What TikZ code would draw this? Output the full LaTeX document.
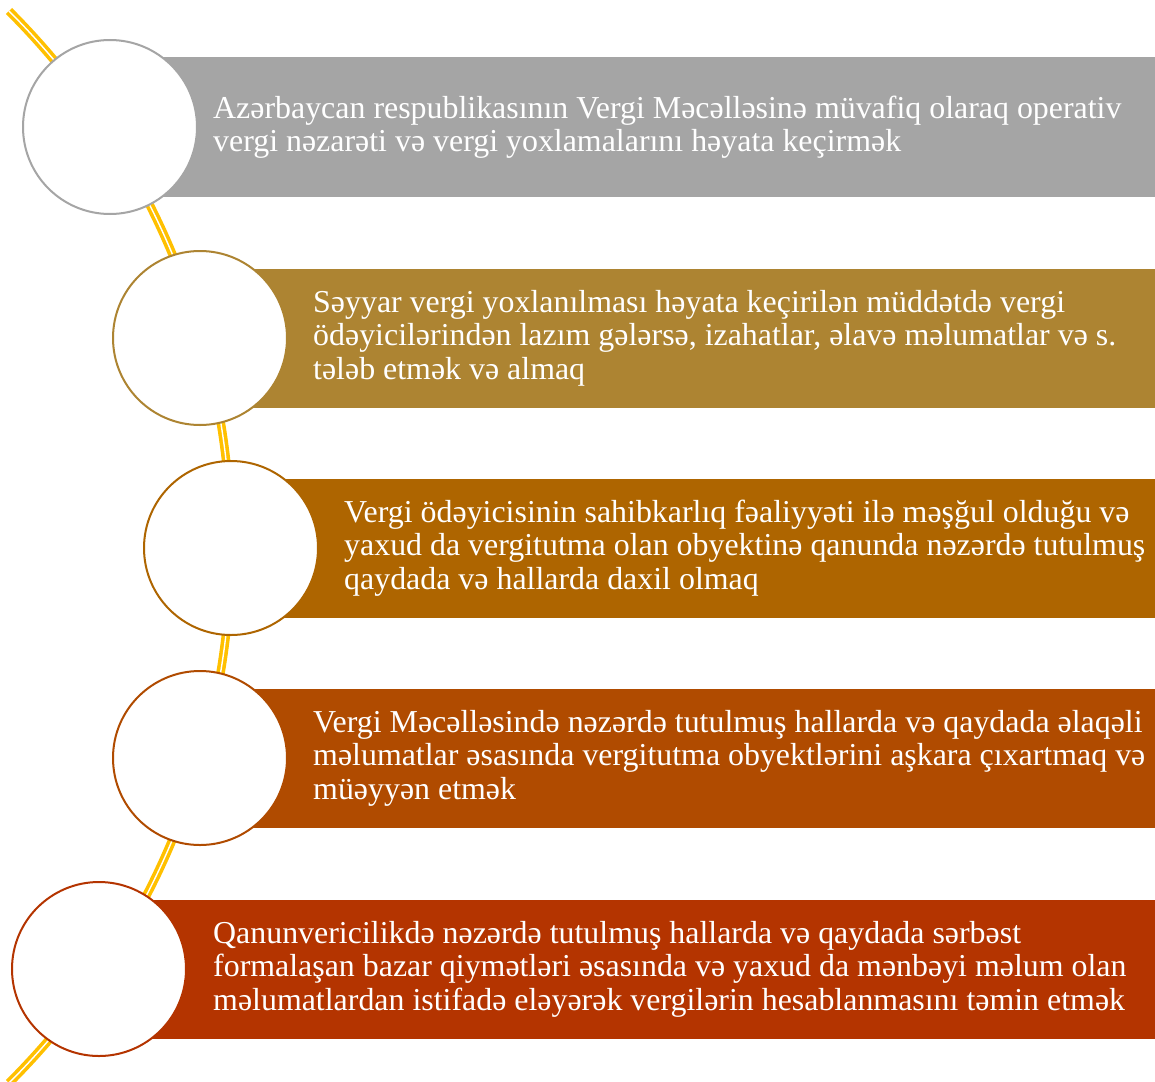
\documentclass[tikz,border=0pt]{standalone}
\usepackage{fontspec}
\setmainfont{Liberation Serif}
\usepackage{xcolor}
\usetikzlibrary{positioning}

% fill colours of the five bars
\definecolor{barA}{HTML}{A5A5A5}
\definecolor{barB}{HTML}{AD8432}
\definecolor{barC}{HTML}{AE6500}
\definecolor{barD}{HTML}{B04B00}
\definecolor{barE}{HTML}{B43400}
\definecolor{spine}{HTML}{FFC000}

\begin{document}
\begin{tikzpicture}[
    x=1pt, y=1pt,
    bar/.style={rectangle, anchor=west, minimum height=139pt, inner sep=0pt, draw=none},
    bullet/.style={circle, minimum size=174pt, inner sep=0pt, fill=white, line width=2pt},
    item/.style={anchor=west, inner sep=0pt, text=white, align=left,
        font=\fontsize{31.9}{33.5}\selectfont},
]
\useasboundingbox (0,0) rectangle (1155,-1081);

% curved spine behind the circles
\coordinate (hub) at (-527,-547);
\draw[spine, line width=3.6pt, double=white, double distance=1.4pt]
    (hub) ++(45:758) arc[start angle=45, end angle=-45, radius=758];

% bars
\node[bar, fill=barA, minimum width=1045pt] (r1) at (110,-127) {};
\node[bar, fill=barB, minimum width=955pt]  (r2) at (200,-338) {};
\node[bar, fill=barC, minimum width=924pt]  (r3) at (231,-548) {};
\node[bar, fill=barD, minimum width=955pt]  (r4) at (200,-758) {};
\node[bar, fill=barE, minimum width=1056pt] (r5) at (99,-969) {};

% circles
\node[bullet, draw=barA] (c1) at (r1.west) {};
\node[bullet, draw=barB] (c2) at (r2.west) {};
\node[bullet, draw=barC] (c3) at (r3.west) {};
\node[bullet, draw=barD] (c4) at (r4.west) {};
\node[bullet, draw=barE] (c5) at (r5.west) {};

% texts
\node[item] (t1) at (213,-127) {Azərbaycan respublikasının Vergi Məcəlləsinə müvafiq olaraq operativ\\vergi nəzarəti və vergi yoxlamalarını həyata keçirmək};
\node[item] (t2) at (313,-338) {Səyyar vergi yoxlanılması həyata keçirilən müddətdə vergi\\ödəyicilərindən lazım gələrsə, izahatlar, əlavə məlumatlar və s.\\tələb etmək və almaq};
\node[item] (t3) at (344,-548) {Vergi ödəyicisinin sahibkarlıq fəaliyyəti ilə məşğul olduğu və\\yaxud da vergitutma olan obyektinə qanunda nəzərdə tutulmuş\\qaydada və hallarda daxil olmaq};
\node[item] (t4) at (313,-758) {Vergi Məcəlləsində nəzərdə tutulmuş hallarda və qaydada əlaqəli\\məlumatlar əsasında vergitutma obyektlərini aşkara çıxartmaq və\\müəyyən etmək};
\node[item] (t5) at (213,-969) {Qanunvericilikdə nəzərdə tutulmuş hallarda və qaydada sərbəst\\formalaşan bazar qiymətləri əsasında və yaxud da mənbəyi məlum olan\\məlumatlardan istifadə eləyərək vergilərin hesablanmasını təmin etmək};

\end{tikzpicture}
\end{document}
